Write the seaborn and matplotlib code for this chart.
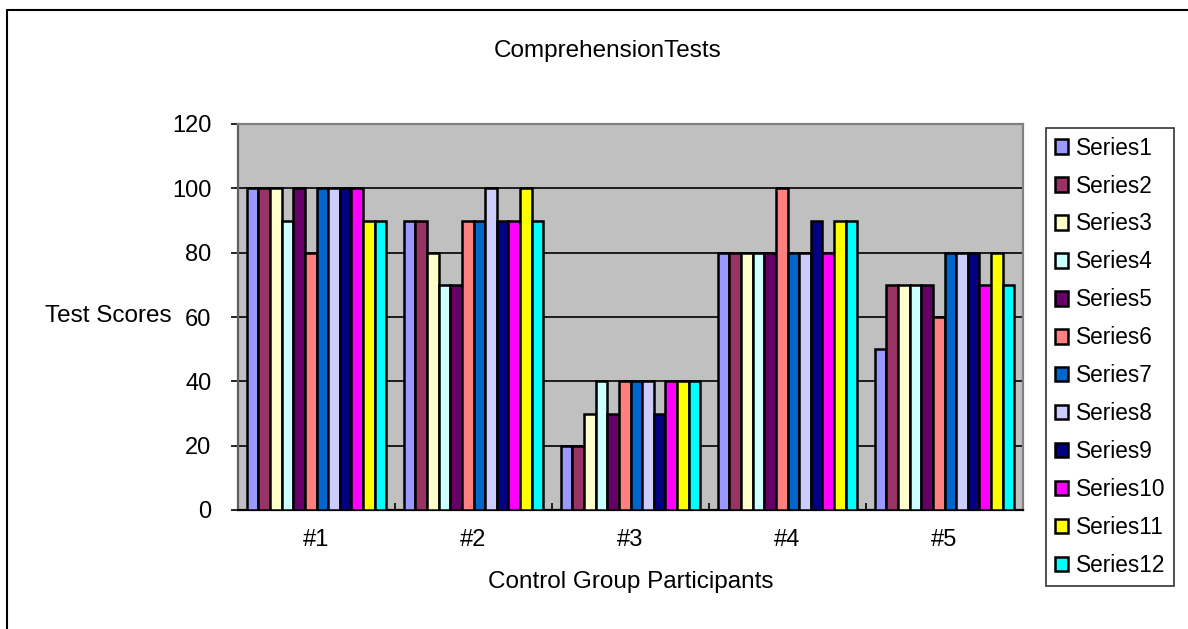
import seaborn as sns
import matplotlib.pyplot as plt
import pandas as pd
from matplotlib.patches import Patch
from matplotlib.lines import Line2D

groups = ["#1", "#2", "#3", "#4", "#5"]
series = ["Series%d" % i for i in range(1, 13)]
scores = {
    "Series1": [100, 90, 20, 80, 50],
    "Series2": [100, 90, 20, 80, 70],
    "Series3": [100, 80, 30, 80, 70],
    "Series4": [90, 70, 40, 80, 70],
    "Series5": [100, 70, 30, 80, 70],
    "Series6": [80, 90, 40, 100, 60],
    "Series7": [100, 90, 40, 80, 80],
    "Series8": [100, 100, 40, 80, 80],
    "Series9": [100, 90, 30, 90, 80],
    "Series10": [100, 90, 40, 80, 70],
    "Series11": [90, 100, 40, 90, 80],
    "Series12": [90, 90, 40, 90, 70],
}
colors = ["#9999FF", "#993366", "#FFFFCC", "#CCFFFF", "#660066", "#FF8080",
          "#0066CC", "#CCCCFF", "#000080", "#FF00FF", "#FFFF00", "#00FFFF"]

rows = []
for s in series:
    for g, v in zip(groups, scores[s]):
        rows.append({"group": g, "series": s, "score": v})
df = pd.DataFrame(rows)

sns.set_style("white")
plt.rcParams["font.family"] = ["Liberation Sans", "DejaVu Sans"]
plt.rcParams["text.color"] = "black"
plt.rcParams["xtick.color"] = "black"
plt.rcParams["ytick.color"] = "black"
plt.rcParams["axes.labelcolor"] = "black"

fig = plt.figure(figsize=(11.88, 6.29), dpi=100)
ax = fig.add_axes([238 / 1188, 1 - 510 / 629, 785 / 1188, 386 / 629])
ax.set_facecolor("#C0C0C0")

sns.barplot(data=df, x="group", y="score", hue="series", hue_order=series,
            palette=colors, width=0.89, edgecolor="black", linewidth=1.8,
            saturation=1, errorbar=None, legend=False, ax=ax, zorder=3)

ax.set_ylim(0, 120)
ax.set_xlim(-0.5, 4.5)
ax.set_yticks(range(0, 121, 20))
ax.yaxis.grid(True, color="black", linewidth=1.2, zorder=1)
ax.set_axisbelow(True)
ax.tick_params(axis="y", direction="out", length=5, width=1.2, labelsize=17, pad=14, left=True)
ax.tick_params(axis="x", length=0, labelsize=17, pad=14)
ax.set_xticks([0.5, 1.5, 2.5, 3.5], minor=True)
ax.tick_params(axis="x", which="minor", direction="in", length=5, width=1.2, bottom=True)
for side in ["top", "right"]:
    ax.spines[side].set_color("#808080")
    ax.spines[side].set_linewidth(1.6)
ax.spines["left"].set_color("#606060")
ax.spines["left"].set_linewidth(1.6)
ax.spines["bottom"].set_color("black")
ax.spines["bottom"].set_linewidth(1.6)

ax.set_xlabel("Control Group Participants", fontsize=17.5, labelpad=14)
ax.set_ylabel("")
fig.text(45 / 1188, 1 - 316 / 629, "Test Scores", fontsize=17.5, va="center", ha="left")
fig.text(608 / 1188, 1 - 51 / 629, "ComprehensionTests", fontsize=17.5, va="center", ha="center")

handles = [Patch(facecolor=c, edgecolor="black", linewidth=1.8) for c in colors]
leg = fig.legend(handles, series, loc="upper left",
                 bbox_to_anchor=(1046 / 1188, 1 - 128 / 629),
                 bbox_transform=fig.transFigure,
                 fontsize=16.3, frameon=True, fancybox=False,
                 handlelength=0.6, handleheight=0.6, handletextpad=0.35,
                 labelspacing=0.66, borderaxespad=0, borderpad=0.38)
leg.get_frame().set_edgecolor("black")
leg.get_frame().set_linewidth(1.2)

# outer chart border (only top and left edges are visible)
fig.add_artist(Line2D([7 / 1188, 1.0], [1 - 10 / 629] * 2, color="black", linewidth=1.5))
fig.add_artist(Line2D([7 / 1188] * 2, [0, 1 - 10 / 629], color="black", linewidth=1.5))

plt.savefig("out.png", dpi=100)
